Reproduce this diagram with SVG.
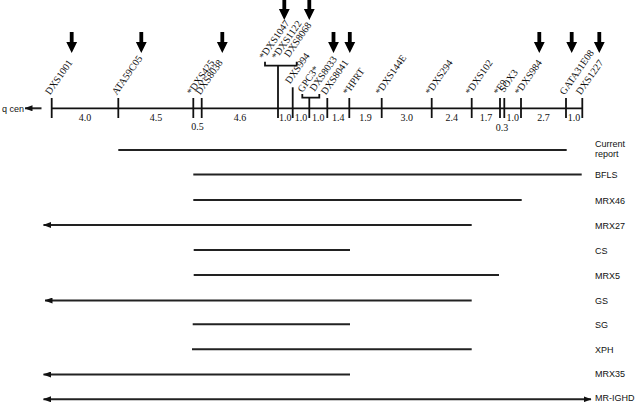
<svg xmlns="http://www.w3.org/2000/svg" width="635" height="404" viewBox="0 0 635 404">
<style>
.lbl{font-family:"Liberation Serif",serif;font-size:10px;fill:#111}
.num{font-family:"Liberation Serif",serif;font-size:10px;fill:#111;text-anchor:middle}
.row{font-family:"Liberation Sans",sans-serif;font-size:9px;fill:#111}
.tk{stroke:#111;stroke-width:1.8;fill:none}
.ln{stroke:#222;stroke-width:2;fill:none}
</style>
<defs>
<path id="dn" d="M-1.9,-21 H1.9 V-11 H5.4 L0,0 L-5.4,-11 H-1.9 Z" fill="#000"/>
<marker id="ah" viewBox="0 0 8 6" refX="7.5" refY="3" markerWidth="8" markerHeight="6" markerUnits="userSpaceOnUse" orient="auto-start-reverse"><path d="M0,0 L8,3 L0,6 Z" fill="#111"/></marker>
</defs>
<rect width="635" height="404" fill="#fff"/>

<g id="axis">
<line class="tk" x1="51.7" y1="108.3" x2="582.3" y2="108.3"/>
<text class="row" x="2" y="111.5">q cen</text>
<line class="ln" x1="41.5" y1="108.3" x2="25" y2="108.3" stroke-width="1.6" marker-end="url(#ah)"/>
</g>

<g id="distances">
<text class="num" x="85" y="120.5">4.0</text>
<text class="num" x="156" y="120.5">4.5</text>
<text class="num" x="197.5" y="130">0.5</text>
<text class="num" x="240" y="120.5">4.6</text>
<text class="num" x="285.3" y="120.5">1.0</text>
<text class="num" x="301" y="120.5">1.0</text>
<text class="num" x="318.3" y="120.5">1.0</text>
<text class="num" x="338.3" y="120.5">1.4</text>
<text class="num" x="365.5" y="120.5">1.9</text>
<text class="num" x="406.7" y="120.5">3.0</text>
<text class="num" x="451.7" y="120.5">2.4</text>
<text class="num" x="486" y="120.5">1.7</text>
<text class="num" x="502" y="131">0.3</text>
<text class="num" x="512.7" y="120.5">1.0</text>
<text class="num" x="543.5" y="120.5">2.7</text>
<text class="num" x="574" y="120.5">1.0</text>
</g>

<g id="m-DXS1001"><line class="tk" x1="51.7" y1="98" x2="51.7" y2="118"/><text class="lbl" transform="translate(50,95.5) rotate(-55)">DXS1001</text><use href="#dn" x="71.7" y="53"/></g>
<g id="m-ATA59C05"><line class="tk" x1="118.3" y1="98" x2="118.3" y2="118"/><text class="lbl" transform="translate(116.8,95.5) rotate(-55)">ATA59C05</text><use href="#dn" x="141.3" y="53"/></g>
<g id="m-DXS425"><line class="tk" x1="193.3" y1="98" x2="193.3" y2="118"/><text class="lbl" transform="translate(191.8,95.5) rotate(-55)">*DXS425</text></g>
<g id="m-DXS8038"><line class="tk" x1="201.7" y1="98" x2="201.7" y2="118"/><text class="lbl" transform="translate(200.2,95.5) rotate(-55)">DXS8038</text><use href="#dn" x="222.3" y="53"/></g>
<g id="m-DXS1047-group">
<path class="tk" d="M265,61.7 V65.7 H296.7 V61.7"/>
<line class="tk" x1="278" y1="65.7" x2="278" y2="118"/>
<text class="lbl" transform="translate(264,60) rotate(-55)">*DXS1047</text>
<text class="lbl" transform="translate(276.5,60) rotate(-55)">*DXS1122</text>
<text class="lbl" transform="translate(289,58) rotate(-55)">DXS8068</text>
<use href="#dn" x="284.3" y="20"/><use href="#dn" x="309.3" y="20"/>
</g>
<g id="m-DXS994"><line class="tk" x1="292.7" y1="87.3" x2="292.7" y2="118"/><text class="lbl" transform="translate(290,84.5) rotate(-55)">DXS994</text></g>
<g id="m-GPC3-group">
<path class="tk" d="M302.3,94 V97.7 H319.3 V94"/>
<line class="tk" x1="309.3" y1="97.7" x2="309.3" y2="118"/>
<text class="lbl" transform="translate(302.5,93) rotate(-55)">GPC3*</text>
<text class="lbl" transform="translate(314.5,92) rotate(-55)">DXS8033</text>
</g>
<g id="m-DXS8041"><line class="tk" x1="327.3" y1="98" x2="327.3" y2="118"/><text class="lbl" transform="translate(325.8,95.5) rotate(-55)">DXS8041</text><use href="#dn" x="333.5" y="53"/></g>
<g id="m-HPRT"><line class="tk" x1="349.3" y1="98" x2="349.3" y2="118"/><text class="lbl" transform="translate(347.8,95.5) rotate(-55)">*HPRT</text><use href="#dn" x="349.8" y="53"/></g>
<g id="m-DXS144E"><line class="tk" x1="381.7" y1="98" x2="381.7" y2="118"/><text class="lbl" transform="translate(380.2,95.5) rotate(-55)">*DXS144E</text></g>
<g id="m-DXS294"><line class="tk" x1="431.7" y1="98" x2="431.7" y2="118"/><text class="lbl" transform="translate(430.2,95.5) rotate(-55)">*DXS294</text></g>
<g id="m-DXS102"><line class="tk" x1="471.7" y1="98" x2="471.7" y2="118"/><text class="lbl" transform="translate(470.2,95.5) rotate(-55)">*DXS102</text></g>
<g id="m-F9"><line class="tk" x1="500" y1="98" x2="500" y2="118"/><text class="lbl" transform="translate(498.5,95.5) rotate(-55)">*F9</text></g>
<g id="m-SOX3"><line class="tk" x1="504.3" y1="98" x2="504.3" y2="118"/><text class="lbl" transform="translate(504,93) rotate(-55)">SOX3</text></g>
<g id="m-DXS984"><line class="tk" x1="521" y1="98" x2="521" y2="118"/><text class="lbl" transform="translate(519.5,95.5) rotate(-55)">*DXS984</text><use href="#dn" x="539.3" y="53"/></g>
<g id="m-GATA31E08"><line class="tk" x1="566" y1="98" x2="566" y2="118"/><text class="lbl" transform="translate(564.5,95.5) rotate(-55)">GATA31E08</text><use href="#dn" x="571.7" y="53"/></g>
<g id="m-DXS1227"><line class="tk" x1="582.3" y1="98" x2="582.3" y2="118"/><text class="lbl" transform="translate(580.8,95.5) rotate(-55)">DXS1227</text><use href="#dn" x="599.3" y="53"/></g>

<g id="connectors">
<line class="ln" x1="118.3" y1="150" x2="566.7" y2="150"/>
<line class="ln" x1="193.3" y1="174.5" x2="581.7" y2="174.5"/>
<line class="ln" x1="193.3" y1="200" x2="521.7" y2="200"/>
<line class="ln" x1="43.5" y1="225" x2="471.7" y2="225" marker-start="url(#ah)"/>
<line class="ln" x1="193.7" y1="250" x2="350" y2="250"/>
<line class="ln" x1="193.7" y1="275" x2="499" y2="275"/>
<line class="ln" x1="45" y1="300.5" x2="471.7" y2="300.5" marker-start="url(#ah)"/>
<line class="ln" x1="192.7" y1="324.3" x2="350" y2="324.3"/>
<line class="ln" x1="192" y1="349.3" x2="471.7" y2="349.3"/>
<line class="ln" x1="43.5" y1="374.5" x2="350" y2="374.5" marker-start="url(#ah)"/>
<line class="ln" x1="43.5" y1="399.3" x2="591" y2="399.3" marker-start="url(#ah)" marker-end="url(#ah)"/>
</g>

<g id="r-current"><text class="row" x="595" y="147">Current</text><text class="row" x="595" y="156.5">report</text></g>
<g id="r-BFLS"><text class="row" x="595" y="178">BFLS</text></g>
<g id="r-MRX46"><text class="row" x="595" y="203.5">MRX46</text></g>
<g id="r-MRX27"><text class="row" x="595" y="228.5">MRX27</text></g>
<g id="r-CS"><text class="row" x="595" y="253.5">CS</text></g>
<g id="r-MRX5"><text class="row" x="595" y="278.5">MRX5</text></g>
<g id="r-GS"><text class="row" x="595" y="303.5">GS</text></g>
<g id="r-SG"><text class="row" x="595" y="327.5">SG</text></g>
<g id="r-XPH"><text class="row" x="595" y="352.5">XPH</text></g>
<g id="r-MRX35"><text class="row" x="595" y="377">MRX35</text></g>
<g id="r-MRIGHD"><text class="row" x="595" y="401">MR-IGHD</text></g>
</svg>
